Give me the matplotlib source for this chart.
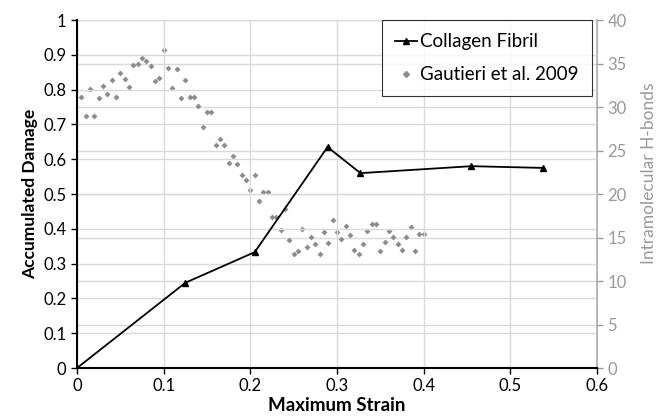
import matplotlib.pyplot as plt

# --- dados ---
fibril_strain = [0.0, 0.125, 0.205, 0.289, 0.327, 0.455, 0.538]
fibril_damage = [0.0, 0.245, 0.333, 0.635, 0.560, 0.580, 0.575]

gautieri_strain = [0.005, 0.010, 0.015, 0.020, 0.025, 0.030, 0.035, 0.040, 0.045, 0.050,
                   0.055, 0.060, 0.065, 0.070, 0.075, 0.080, 0.085, 0.090, 0.095, 0.100,
                   0.105, 0.110, 0.115, 0.120, 0.125, 0.130, 0.135, 0.140, 0.145, 0.150,
                   0.155, 0.160, 0.165, 0.170, 0.175, 0.180, 0.185, 0.190, 0.195, 0.200,
                   0.205, 0.210, 0.215, 0.220, 0.225, 0.230, 0.235, 0.240, 0.245, 0.250,
                   0.255, 0.260, 0.265, 0.270, 0.275, 0.280, 0.285, 0.290, 0.295, 0.300,
                   0.305, 0.310, 0.315, 0.320, 0.325, 0.330, 0.335, 0.340, 0.345, 0.350,
                   0.355, 0.360, 0.365, 0.370, 0.375, 0.380, 0.385, 0.390, 0.395, 0.400]
gautieri_hbonds = [31.1, 29.0, 32.1, 29.0, 31.0, 32.4, 31.5, 33.1, 31.1, 33.9,
                   33.2, 32.3, 34.8, 35.0, 35.6, 35.3, 34.7, 33.0, 33.3, 36.6,
                   34.5, 32.2, 34.4, 31.0, 33.1, 31.2, 31.2, 30.1, 27.7, 29.4,
                   29.4, 25.6, 26.3, 25.6, 23.6, 24.4, 23.4, 22.2, 21.6, 20.5,
                   22.2, 19.2, 20.2, 20.2, 17.4, 17.4, 15.9, 18.3, 14.7, 13.1,
                   13.4, 16.0, 13.9, 15.1, 14.3, 13.1, 15.6, 14.4, 17.0, 15.6,
                   14.8, 16.3, 15.3, 13.6, 13.1, 14.3, 15.8, 16.6, 16.6, 13.5,
                   14.5, 15.8, 15.1, 14.3, 13.6, 15.1, 16.2, 13.4, 15.4, 15.4]

x_ticks = [0, 0.1, 0.2, 0.3, 0.4, 0.5, 0.6]
x_labels = ['0', '0.1', '0.2', '0.3', '0.4', '0.5', '0.6']
y_ticks = [0, 0.1, 0.2, 0.3, 0.4, 0.5, 0.6, 0.7, 0.8, 0.9, 1.0]
y_labels = ['0', '0.1', '0.2', '0.3', '0.4', '0.5', '0.6', '0.7', '0.8', '0.9', '1']
y2_ticks = [0, 5, 10, 15, 20, 25, 30, 35, 40]

plt.rcParams['font.family'] = ['Lato', 'DejaVu Sans']

fig = plt.figure(figsize=(6.6, 4.19), dpi=100)
ax = fig.add_axes([0.1167, 0.1217, 0.788, 0.8305])
ax2 = ax.twinx()

cinza = '#8c8c8c'
grade = '#d9d9d9'

# grade vertical + horizontal dos dois eixos
ax.set_axisbelow(True)
ax.grid(True, color=grade, linewidth=1)
ax2.grid(True, axis='y', color=grade, linewidth=1)
ax2.set_axisbelow(True)
ax.set_zorder(2)
ax.patch.set_visible(False)

ax2.scatter(gautieri_strain, gautieri_hbonds, marker='D', s=9, color=cinza,
            linewidths=0, zorder=3)
ax.plot(fibril_strain, fibril_damage, color='black', linewidth=1.3,
        marker='^', markersize=5, zorder=4)

ax.set_xlim(0, 0.6)
ax.set_ylim(0, 1)
ax2.set_ylim(0, 40)
ax.set_xticks(x_ticks, x_labels)
ax.set_yticks(y_ticks, y_labels)
ax2.set_yticks(y2_ticks)

ax.tick_params(labelsize=12, length=4, width=1, color='black')
ax2.tick_params(labelsize=12, length=4, width=1, colors='#999999')

ax.spines['top'].set_visible(False)
ax2.spines['top'].set_visible(False)
ax.spines['right'].set_visible(False)
ax2.spines['left'].set_visible(False)
ax2.spines['bottom'].set_visible(False)
ax.spines['left'].set_linewidth(1.5)
ax.spines['bottom'].set_linewidth(1.5)
ax2.spines['right'].set_color('#a6a6a6')
ax2.spines['right'].set_linewidth(1.2)

ax.set_xlabel('Maximum Strain', fontsize=13.5, fontweight='bold', labelpad=2)
ax.set_ylabel('Accumulated Damage', fontsize=12.5, fontweight='bold', labelpad=4)
ax2.set_ylabel('Intramolecular H-bonds', fontsize=12.5, color='#999999', labelpad=6)
ax2.yaxis.set_label_coords(1.085, 0.56)

# legenda
h1 = plt.Line2D([], [], color='black', marker='^', markersize=5, linewidth=1.3)
h2 = plt.Line2D([], [], color=cinza, marker='D', markersize=3, linewidth=0)
leg = ax.legend([h1, h2], ['Collagen Fibril', 'Gautieri et al. 2009'],
                loc='upper right', bbox_to_anchor=(0.99, 1.0), borderaxespad=0,
                fontsize=13.5, frameon=True, fancybox=False, edgecolor='black',
                handlelength=1.2, handletextpad=0.15, borderpad=0.7,
                labelspacing=0.85)
leg.get_frame().set_linewidth(0.8)

fig.savefig('out.png', dpi=100)
